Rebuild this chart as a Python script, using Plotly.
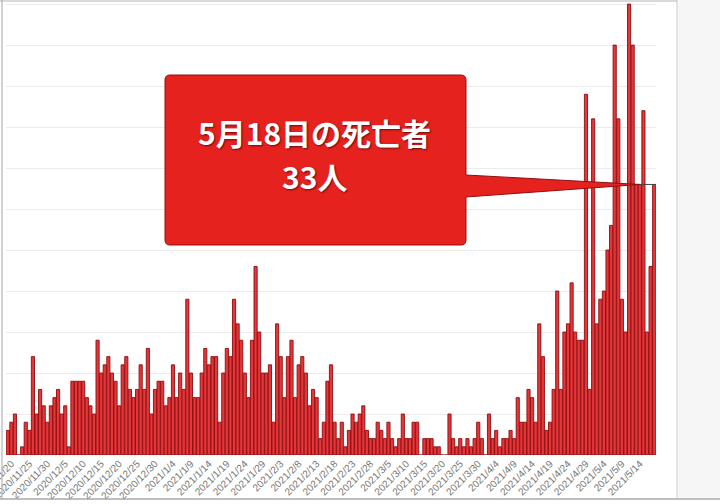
import pandas as pd
import plotly.graph_objects as go

# ---- data (daily deaths, 2020/11/19 - 2021/5/18) ----
start_date = "2020-11-19"
end_date = "2021-05-18"
deaths = [
    3, 4, 5, 0, 1, 4, 3, 12, 5, 8, 6, 4, 6, 7, 8, 5, 6, 1, 9, 9, 9, 9, 7, 6, 5,
    14, 10, 11, 12, 10, 9, 6, 11, 12, 8, 7, 8, 11, 8, 13, 5, 8, 9, 9, 6, 7, 11, 7, 10, 8,
    19, 10, 7, 7, 10, 13, 11, 12, 12, 4, 10, 13, 12, 19, 16, 14, 10, 7, 14, 23, 15, 10, 10, 11, 4,
    16, 12, 7, 12, 14, 7, 11, 12, 10, 6, 8, 7, 2, 4, 9, 11, 4, 2, 4, 1, 3, 5, 4, 5, 6,
    3, 2, 2, 4, 3, 2, 4, 2, 1, 2, 5, 2, 2, 4, 4, 0, 2, 2, 2, 1, 1, 0, 0, 5, 2,
    1, 2, 1, 2, 1, 2, 4, 2, 0, 5, 2, 3, 1, 2, 2, 3, 2, 7, 4, 4, 8, 7, 4, 16, 12, 3, 4, 8, 20, 8,
    15, 16, 21, 15, 14, 14, 44, 8, 41, 16, 19, 20, 25, 28, 50, 41, 19, 15, 55, 50, 33, 33, 42, 15, 23, 33,
]
tick_start = "2020-11-20"
tick_step_days = 5
callout_line1 = "5月18日の死亡者"
callout_line2 = f"{deaths[-1]}人"

dates = pd.date_range(start_date, end_date, freq="D")
tick_dates = pd.date_range(tick_start, end_date, freq=f"{tick_step_days}D")
tick_text = [f"{d.year}/{d.month}/{d.day}" for d in tick_dates]

Y_MAX = 55.5

# ---- layout geometry (pixels) ----
FIG_W, FIG_H = 720, 504
L, T, W, H = 6, 0, 650, 455
R = FIG_W - L - W
B = FIG_H - T - H


def px(x):
    return (x - L) / W


def py(y):
    return 1 - (y - T) / H


fig = go.Figure()
fig.add_trace(go.Bar(
    x=dates,
    y=deaths,
    marker=dict(color="#e8353a", line=dict(color="#8a0d0d", width=0.9)),
    hoverinfo="x+y",
))

# callout box + pointer (one path)
bx0, bx1, by0, by1, r = 165, 466, 75, 245, 5
tip_y_paper = deaths[-1] / Y_MAX
tip_y_px = T + (1 - tip_y_paper) * H
tip_x = 640
wedge_top, wedge_bot = 175, 197


def P(x, y):
    return f"{px(x):.5f},{py(y):.5f}"


path = (
    f"M {P(bx0 + r, by0)} L {P(bx1 - r, by0)} Q {P(bx1, by0)} {P(bx1, by0 + r)} "
    f"L {P(bx1, wedge_top)} L {P(tip_x, tip_y_px)} L {P(bx1, wedge_bot)} "
    f"L {P(bx1, by1 - r)} Q {P(bx1, by1)} {P(bx1 - r, by1)} "
    f"L {P(bx0 + r, by1)} Q {P(bx0, by1)} {P(bx0, by1 - r)} "
    f"L {P(bx0, by0 + r)} Q {P(bx0, by0)} {P(bx0 + r, by0)} Z"
)

shapes = [
    # right grey panel
    dict(type="rect", xref="paper", yref="paper", x0=px(677), x1=px(722), y0=py(498), y1=py(-2),
         fillcolor="#f6f6f6", line=dict(width=0), layer="below"),
    dict(type="line", xref="paper", yref="paper", x0=px(677), x1=px(677), y0=py(498), y1=py(0),
         line=dict(color="#dcdcdc", width=1.5)),
    # frame lines
    dict(type="line", xref="paper", yref="paper", x0=px(0), x1=px(677), y0=py(1), y1=py(1),
         line=dict(color="#b4b4b4", width=1.2)),
    dict(type="line", xref="paper", yref="paper", x0=px(2), x1=px(2), y0=py(0), y1=py(499),
         line=dict(color="#b4b4b4", width=1.2)),
    dict(type="line", xref="paper", yref="paper", x0=px(0), x1=px(720), y0=py(499), y1=py(499),
         line=dict(color="#aaaaaa", width=1.5)),
    # leader line at the last value
    dict(type="line", xref="paper", yref="y", x0=px(630), x1=px(656), y0=deaths[-1], y1=deaths[-1],
         line=dict(color="#444444", width=1)),
    # callout
    dict(type="path", xref="paper", yref="paper", path=path,
         fillcolor="#e6221f", line=dict(color="#8e1010", width=1)),
]

text_font = dict(family="Noto Sans CJK JP", size=30, color="white", weight="bold",
                 shadow="1px 1px 2px rgba(80,0,0,0.75)")
annotations = [
    dict(xref="paper", yref="paper", x=px(314), y=py(132), text=callout_line1, showarrow=False,
         font=text_font, xanchor="center", yanchor="middle"),
    dict(xref="paper", yref="paper", x=px(314), y=py(176), text=callout_line2, showarrow=False,
         font=text_font, xanchor="center", yanchor="middle"),
]

fig.update_layout(
    width=FIG_W, height=FIG_H,
    margin=dict(l=L, r=R, t=T, b=B, pad=0),
    paper_bgcolor="white", plot_bgcolor="white",
    showlegend=False,
    bargap=0.12,
    shapes=shapes,
    annotations=annotations,
    xaxis=dict(
        type="date",
        range=[dates[0] - pd.Timedelta(hours=12), dates[-1] + pd.Timedelta(hours=12)],
        tickvals=tick_dates, ticktext=tick_text, ticklabeloverflow="allow",
        tickangle=-45, tickfont=dict(family="Liberation Sans", size=10, color="#767676"),
        showgrid=False, zeroline=False, showline=False, ticks="", automargin=False,
    ),
    yaxis=dict(
        range=[0, Y_MAX], dtick=5, showticklabels=False, showgrid=True,
        gridcolor="#ebebeb", gridwidth=1, zeroline=False, showline=False, ticks="",
        automargin=False,
    ),
)

fig.write_html(
    "out.html",
    config={"displayModeBar": False},
    post_script="document.body.style.margin='0';document.body.style.overflow='hidden';",
)
